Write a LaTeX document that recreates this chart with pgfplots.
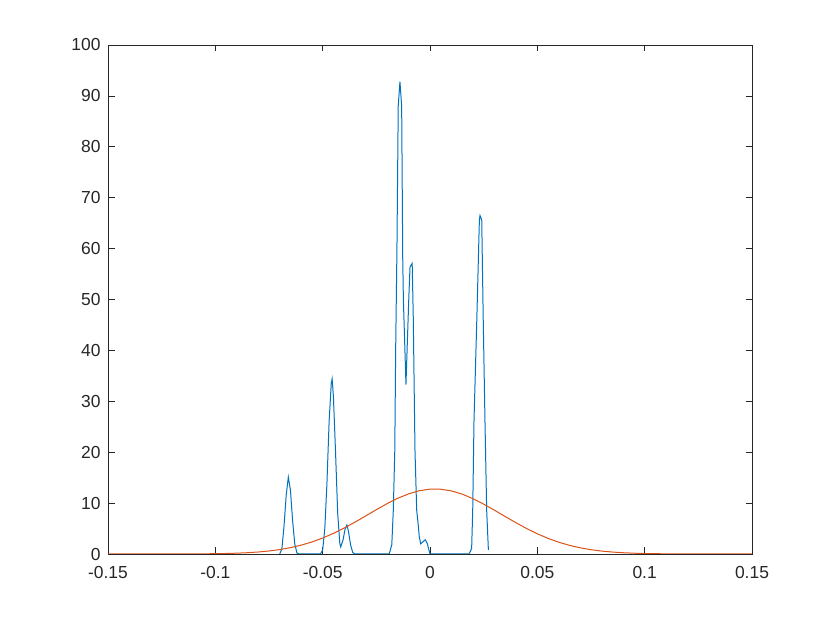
\documentclass[border=0pt]{standalone}
\usepackage{pgfplots}
\pgfplotsset{compat=1.18}
\usepackage{fontspec}
\setmainfont{Liberation Sans}
\definecolor{mblue}{rgb}{0,0.447,0.741}
\definecolor{morange}{rgb}{0.85,0.325,0.098}
\definecolor{maxis}{rgb}{0.15,0.15,0.15}
\begin{document}
\begin{tikzpicture}
\path[use as bounding box] (0,0) rectangle (830bp,623bp);
\begin{axis}[
  at={(108bp,69bp)}, anchor=south west,
  width=644bp, height=509bp, scale only axis,
  xmin=-0.15, xmax=0.15, ymin=0, ymax=100,
  xtick={-0.15,-0.1,-0.05,0,0.05,0.1,0.15},
  xticklabels={-0.15,-0.1,-0.05,0,0.05,0.1,0.15},
  ytick={0,10,20,30,40,50,60,70,80,90,100},
  yticklabels={0,10,20,30,40,50,60,70,80,90,100},
  scaled ticks=false,
  tick align=inside,
  major tick length=6.5bp,
  axis line style={maxis, line width=0.75bp},
  tick style={maxis, line width=0.75bp},
  ticklabel style={font=\fontsize{17.5}{19}\selectfont, text=maxis},
  xticklabel style={yshift=-9bp},
  yticklabel style={xshift=-4bp},
]
\addplot[mblue, line width=1bp] coordinates {
(-0.0700,0.0) (-0.0690,1.0) (-0.0680,5.5) (-0.0670,11.5) (-0.0660,15.1)
(-0.0650,12.5) (-0.0640,6.5) (-0.0630,2.0) (-0.0620,0.2) (-0.0610,0)
(-0.0510,0) (-0.0500,0.8) (-0.0490,5) (-0.0480,14) (-0.0470,26)
(-0.0460,33.5) (-0.0456,34.4) (-0.0450,31) (-0.0440,20) (-0.0430,8)
(-0.0420,2.0) (-0.0416,1.4) (-0.0405,2.8) (-0.0395,5.0) (-0.0387,5.7)
(-0.0380,4.5) (-0.0370,1.8) (-0.0360,0.3) (-0.0350,0)
(-0.0190,0) (-0.0178,1.8) (-0.0171,8.6) (-0.0164,20.4) (-0.0160,40)
(-0.0154,60) (-0.0148,88) (-0.0140,92.8) (-0.0132,88) (-0.0127,58)
(-0.0124,50) (-0.0112,33.3) (-0.0099,50) (-0.0093,56.4) (-0.0083,57.1)
(-0.0078,46.6) (-0.0070,20.4) (-0.0062,8.6) (-0.0054,5.4) (-0.0050,3.4)
(-0.0043,2.0) (-0.0022,2.8) (-0.0013,2.1) (0.0000,0)
(0.0182,0) (0.0194,1.1) (0.0199,8.6) (0.0205,26.3) (0.0218,46)
(0.0230,65.6) (0.0233,66.5) (0.0241,65.6) (0.0248,46) (0.0256,26.3)
(0.0264,8.6) (0.0272,0.8)
};
\addplot[morange, line width=1bp] coordinates {
(-0.150,0) (-0.140,0.0003) (-0.130,0.0015) (-0.120,0.0059) (-0.110,0.0196)
(-0.100,0.059) (-0.095,0.099) (-0.090,0.161) (-0.085,0.255) (-0.080,0.394)
(-0.075,0.593) (-0.070,0.871) (-0.065,1.247) (-0.060,1.739) (-0.055,2.365)
(-0.050,3.134) (-0.045,4.048) (-0.040,5.094) (-0.035,6.249) (-0.030,7.472)
(-0.025,8.708) (-0.020,9.892) (-0.015,10.95) (-0.010,11.81) (-0.005,12.43)
(0.000,12.74) (0.0023,12.77) (0.005,12.72) (0.010,12.39) (0.015,11.76)
(0.020,10.87) (0.025,9.801) (0.030,8.611) (0.035,7.373) (0.040,6.154)
(0.045,5.006) (0.050,3.969) (0.055,3.066) (0.060,2.310) (0.065,1.696)
(0.070,1.213) (0.075,0.846) (0.080,0.575) (0.085,0.381) (0.090,0.246)
(0.095,0.155) (0.100,0.095) (0.110,0.033) (0.120,0.010) (0.130,0.003)
(0.140,0.0008) (0.150,0)
};
\end{axis}
\end{tikzpicture}
\end{document}
